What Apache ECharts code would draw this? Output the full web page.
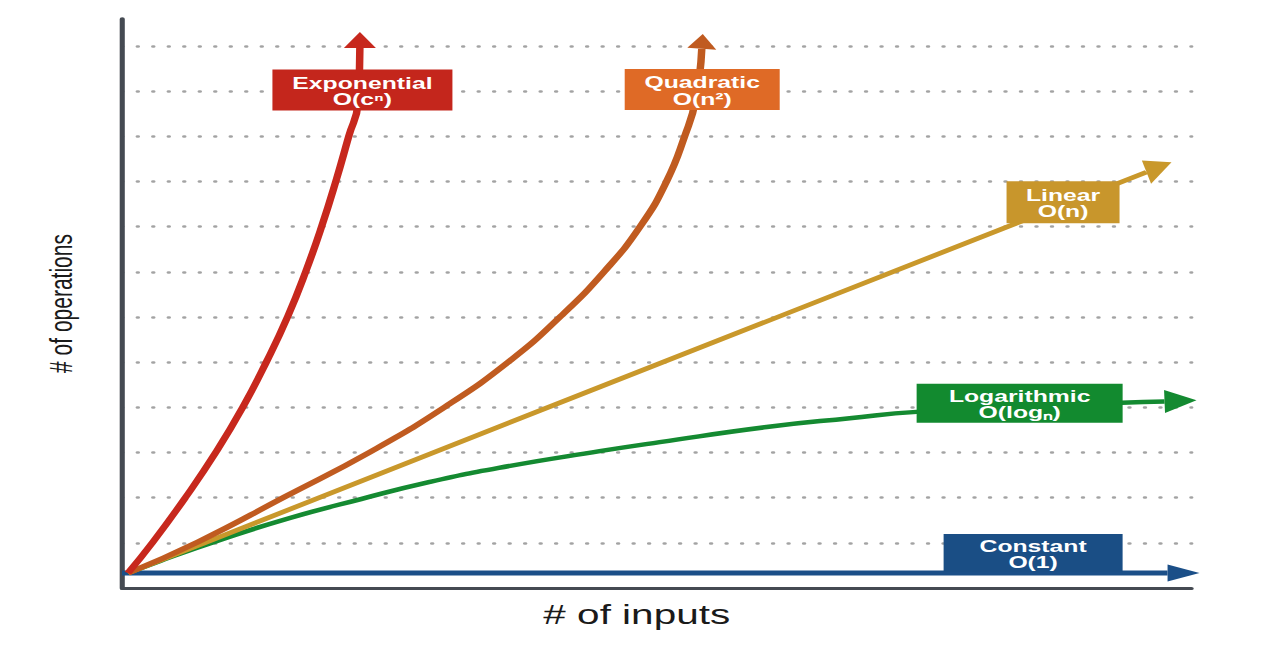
<!DOCTYPE html>
<html>
<head>
<meta charset="utf-8">
<script src="https://cdn.jsdelivr.net/npm/echarts@6/dist/echarts.min.js"></script>
<style>
html,body{margin:0;padding:0;background:#ffffff;overflow:hidden;}
#chart{width:853.333px;height:646px;transform:scaleX(1.5);transform-origin:0 0;}
</style>
</head>
<body>
<div id="chart"></div>
<script>
// ---- data (x: # of inputs, y: # of operations, arbitrary units) ----
const seriesNames = ['Constant', 'Logarithmic', 'Linear', 'Quadratic', 'Exponential'];
const labelTexts = ['Constant\nO(1)', 'Logarithmic\nO(logₙ)', 'Linear\nO(n)', 'Quadratic\nO(n²)', 'Exponential\nO(cⁿ)'];
const constantPts = [[0, 0.33], [44.67, 0.33], [97.76, 0.33], [100.75, 0.33]];
const logPts = [[0.56, 0.33], [3.55, 0.60], [9.44, 1.085], [15.70, 1.55], [22.34, 1.97], [28.79, 2.35], [35.23, 2.66], [44.67, 3.03], [50.28, 3.23], [60.28, 3.565], [68.04, 3.76], [74.30, 3.90], [93.46, 4.10], [97.48, 4.13], [100.47, 4.16]];
const linearPts = [[0.56, 0.33], [44.67, 4.45], [95.79, 9.21], [98.13, 9.43]];
const quadraticPts = [[0.56, 0.33], [7.10, 1.02], [15.23, 2.02], [23.18, 3.01], [30.19, 4.01], [36.26, 5.03], [41.03, 6.02], [45.14, 7.02], [48.50, 8.02], [50.93, 9.01], [52.62, 10.01], [53.64, 10.81], [54.21, 11.94], [54.30, 12.27]];
const exponentialPts = [[0.56, 0.33], [2.90, 1.02], [5.98, 2.02], [8.79, 3.01], [11.31, 4.01], [13.55, 5.03], [15.51, 6.02], [17.20, 7.02], [18.69, 8.02], [20.00, 9.01], [21.21, 10.01], [22.06, 10.72], [22.24, 11.96], [22.24, 12.31]];
const labelAnchors = [[85.19, 0.775], [83.93, 4.09], [87.99, 8.54], [54.25, 11.04], [22.48, 11.03]];
const xName = '# of inputs';
const yName = '# of operations';

// ---- styles ----
const STRETCH = 1.5;
const allPts = [constantPts, logPts, linearPts, quadraticPts, exponentialPts];
const styles = [
  { line: '#1b4f88', box: '#1a4e85', width: 5,   arrowW: 17, boxW: 179, boxH: 38 },
  { line: '#148a31', box: '#128a2f', width: 4.5, arrowW: 23, boxW: 206, boxH: 39 },
  { line: '#c9982b', box: '#c8962c', width: 4.5, arrowW: 25, boxW: 113, boxH: 42 },
  { line: '#c05b20', box: '#df6a26', width: 5,   arrowW: 29, boxW: 155, boxH: 41 },
  { line: '#c7281d', box: '#c4261c', width: 5,   arrowW: 32, boxW: 180, boxH: 41 }
];

const series = [];
allPts.forEach((pts, i) => {
  series.push({
    name: seriesNames[i],
    type: 'line',
    data: pts.slice(0, -1),
    smooth: i === 0 || i === 2 ? false : 0.5,
    showSymbol: false,
    clip: false,
    silent: true,
    z: 2 + i,
    lineStyle: { color: styles[i].line, width: styles[i].width, cap: 'butt' }
  });
});

// arrow heads from last two points of each curve
series.push({
  type: 'custom',
  clip: false,
  silent: true,
  z: 20,
  data: allPts.map((pts, i) => {
    const b = pts[pts.length - 2], t = pts[pts.length - 1];
    return [b[0], b[1], t[0], t[1], i];
  }),
  renderItem: function (params, api) {
    const b = api.coord([api.value(0), api.value(1)]);
    const t = api.coord([api.value(2), api.value(3)]);
    const st = styles[api.value(4)];
    const bx = b[0] * STRETCH, tx = t[0] * STRETCH;
    let dx = tx - bx, dy = t[1] - b[1];
    const len = Math.hypot(dx, dy) || 1;
    dx /= len; dy /= len;
    const hw = st.arrowW / 2;
    const px = -dy * hw, py = dx * hw;
    return {
      type: 'polygon',
      shape: { points: [[t[0], t[1]], [(bx + px) / STRETCH, b[1] + py], [(bx - px) / STRETCH, b[1] - py]] },
      style: { fill: st.line }
    };
  }
});

// label boxes
series.push({
  type: 'custom',
  clip: false,
  silent: true,
  z: 30,
  data: labelAnchors.map((p, i) => [p[0], p[1], i]),
  renderItem: function (params, api) {
    const c = api.coord([api.value(0), api.value(1)]);
    const i = api.value(2);
    const st = styles[i];
    const w = st.boxW / STRETCH, h = st.boxH;
    return {
      type: 'group',
      x: c[0], y: c[1],
      children: [
        { type: 'rect', shape: { x: -w / 2, y: -h / 2, width: w, height: h }, style: { fill: st.box } },
        { type: 'text', style: {
            text: labelTexts[i], x: 0, y: 1,
            align: 'center', verticalAlign: 'middle',
            fill: '#ffffff',
            font: 'bold 16.5px "Liberation Sans", Arial, Helvetica, sans-serif',
            lineHeight: 16.5
        } }
      ]
    };
  }
});

const chart = echarts.init(document.getElementById('chart'), null, { renderer: 'svg' });
chart.setOption({
  animation: false,
  backgroundColor: '#ffffff',
  grid: { left: 122 / STRETCH, right: 88 / STRETCH, top: 19, bottom: 58 },
  xAxis: {
    type: 'value', min: 0, max: 100,
    offset: 2,
    name: xName, nameLocation: 'middle', nameGap: 11,
    nameTextStyle: { fontFamily: '"Liberation Sans", Arial, sans-serif', fontSize: 27, color: '#1a1a1a', padding: [0, 40 / STRETCH, 0, 0] },
    axisLine: { show: true, lineStyle: { color: '#454a52', width: 3 } },
    axisTick: { show: false }, axisLabel: { show: false }, splitLine: { show: false }
  },
  yAxis: {
    type: 'value', min: 0, max: 12.6, interval: 1,
    name: yName, nameLocation: 'middle', nameGap: 30,
    nameTextStyle: { fontFamily: '"Liberation Sans", Arial, sans-serif', fontSize: 21, color: '#1a1a1a' },
    axisLine: { show: true, lineStyle: { color: '#454a52', width: 3.4 } },
    axisTick: { show: false }, axisLabel: { show: false },
    splitLine: { show: true, showMinLine: false, showMaxLine: false,
      lineStyle: { color: '#a3a3a3', width: 2.6, type: [0.4, 9.93], cap: 'round' } }
  },
  series: series
});
</script>
</body>
</html>
